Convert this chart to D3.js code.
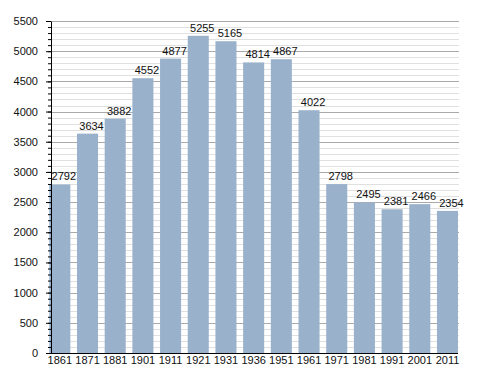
<!DOCTYPE html>
<meta charset="utf-8" />
<script src="https://d3js.org/d3.v7.min.js"></script>
<style>
  body { margin: 0; background: #fff; }
  text { font-family: "Liberation Sans", Arial, sans-serif; }
</style>
<body>
  <div id="chart"></div>
  <script>
    // census years and population
    const years = ["1861", "1871", "1881", "1901", "1911", "1921", "1931", "1936",
      "1951", "1961", "1971", "1981", "1991", "2001", "2011"];
    const population = [2792, 3634, 3882, 4552, 4877, 5255, 5165, 4814,
      4867, 4022, 2798, 2495, 2381, 2466, 2354];
    const majorTicks = d3.range(0, 5501, 500);
    const minorTicks = d3.range(0, 5501, 100);

    const width = 488, height = 373;
    const plotLeft = 51, plotRight = 459, plotTop = 21, plotBottom = 353;

    const svg = d3.select("#chart").append("svg")
      .attr("width", width)
      .attr("height", height);

    const x = d3.scaleBand()
      .domain(years)
      .range([49.3, 458])
      .paddingInner(0.24)
      .paddingOuter(0);

    const y = d3.scaleLinear().domain([0, 5500]).range([plotBottom, plotTop]);

    // grid lines
    svg.append("g").selectAll("line")
      .data(minorTicks.filter(d => d % 500 !== 0))
      .join("line")
      .attr("x1", plotLeft).attr("x2", plotRight)
      .attr("y1", d => Math.round(y(d)) + 0.5)
      .attr("y2", d => Math.round(y(d)) + 0.5)
      .attr("stroke", "#e0e0e0");
    svg.append("g").selectAll("line")
      .data(majorTicks.filter(d => d > 0))
      .join("line")
      .attr("x1", plotLeft).attr("x2", plotRight)
      .attr("y1", d => Math.round(y(d)) + 0.5)
      .attr("y2", d => Math.round(y(d)) + 0.5)
      .attr("stroke", "#aaaaaa");

    // bars
    svg.append("g").selectAll("rect")
      .data(population)
      .join("rect")
      .attr("x", (d, i) => x(years[i]))
      .attr("y", d => y(d))
      .attr("width", x.bandwidth())
      .attr("height", d => plotBottom - y(d))
      .attr("fill", "#9ab1cb");

    // value labels
    svg.append("g").selectAll("text")
      .data(population)
      .join("text")
      .attr("x", (d, i) => x(years[i]) + x.bandwidth() / 2 + 4)
      .attr("y", d => y(d) - 4)
      .attr("text-anchor", "middle")
      .style("font-size", "11px")
      .attr("fill", "#111")
      .text(d => d);

    // minor ticks
    svg.append("g")
      .attr("transform", "translate(" + plotLeft + ",0)")
      .call(d3.axisLeft(y).tickValues(minorTicks).tickSize(3).tickFormat(""))
      .call(g => g.select(".domain").remove());

    // y axis
    svg.append("g")
      .attr("transform", "translate(" + plotLeft + ",0)")
      .call(d3.axisLeft(y).tickValues(majorTicks).tickFormat(d3.format("d"))
        .tickSize(5).tickPadding(8).tickSizeOuter(0))
      .call(g => g.selectAll("text").style("font-size", "11px").attr("fill", "#111"));

    // x axis
    svg.append("g")
      .attr("transform", "translate(0," + plotBottom + ")")
      .call(d3.axisBottom(x).tickSize(0).tickPadding(3))
      .call(g => g.select(".domain").attr("d", "M" + plotLeft + ",0.5H458"))
      .call(g => g.selectAll("text").style("font-size", "11px").attr("fill", "#111"));
  </script>
</body>
